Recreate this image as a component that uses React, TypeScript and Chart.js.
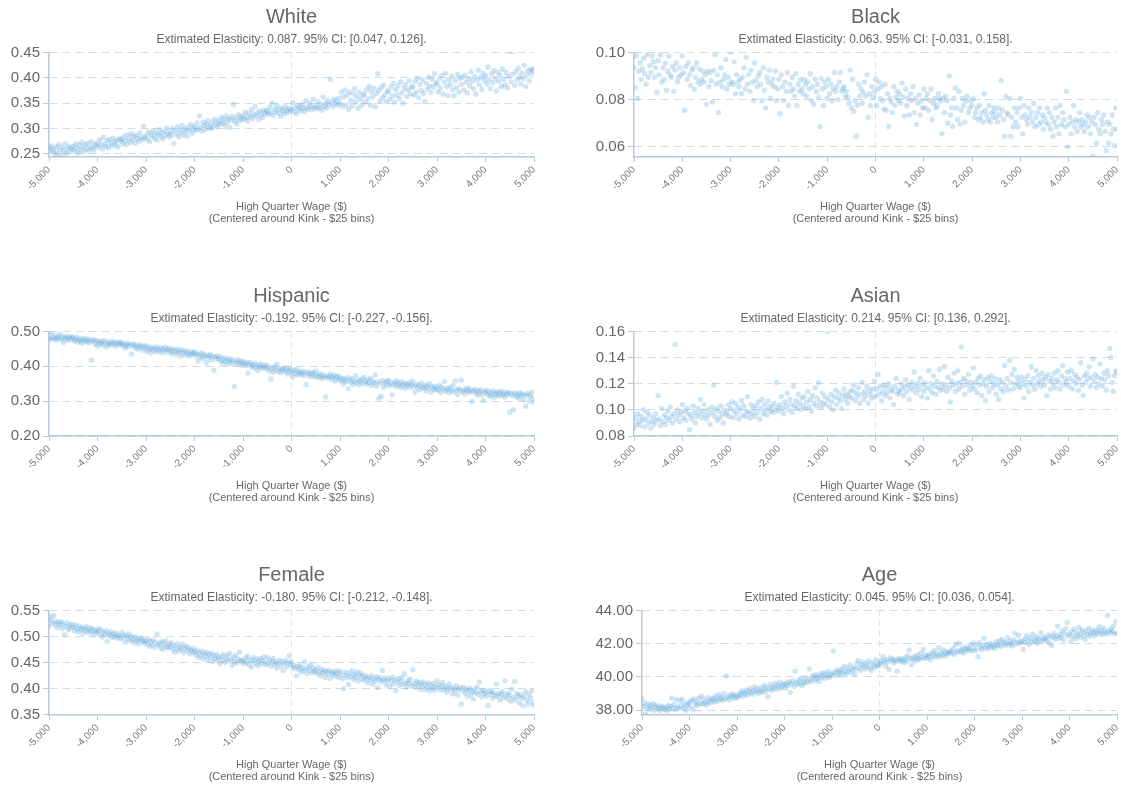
import React, { useEffect, useRef } from 'react';
import { Chart, registerables } from 'chart.js';
Chart.register(...registerables);

const FONT = 'Arial, "Liberation Sans", Helvetica, sans-serif';
Chart.defaults.font.family = FONT;

// $25 bins from -5,000 to 5,000 around the kink
const binStart = -5000;
const binWidth = 25;
const binCount = 401;
const xBins = Array.from({ length: binCount }, (_, i) => binStart + i * binWidth);
const xTicks = [-5000, -4000, -3000, -2000, -1000, 0, 1000, 2000, 3000, 4000, 5000];
const xAxisTitle = ['High Quarter Wage ($)', '(Centered around Kink - $25 bins)'];

const whiteValues = [
  0.257,0.262,0.266,0.255,0.259,0.249,0.264,0.252,0.268,0.258,0.247,0.263,0.256,0.270,0.251,0.260,0.266,0.254,0.262,0.259,
  0.265,0.256,0.270,0.261,0.252,0.267,0.258,0.273,0.263,0.255,0.268,0.260,0.271,0.257,0.264,0.274,0.262,0.258,0.269,0.266,
  0.272,0.263,0.278,0.268,0.260,0.283,0.270,0.265,0.276,0.262,0.279,0.271,0.266,0.281,0.274,0.268,0.277,0.264,0.280,0.275,
  0.279,0.270,0.285,0.276,0.268,0.288,0.280,0.273,0.290,0.277,0.284,0.271,0.287,0.281,0.275,0.292,0.283,0.278,0.305,0.282,
  0.286,0.279,0.293,0.274,0.289,0.284,0.296,0.281,0.291,0.277,0.288,0.298,0.285,0.292,0.280,0.295,0.287,0.301,0.290,0.284,
  0.293,0.287,0.300,0.270,0.296,0.289,0.303,0.284,0.298,0.292,0.306,0.288,0.299,0.294,0.285,0.302,0.297,0.308,0.291,0.300,
  0.304,0.296,0.311,0.299,0.325,0.302,0.295,0.313,0.306,0.298,0.309,0.316,0.301,0.307,0.300,0.314,0.305,0.319,0.310,0.303,
  0.315,0.309,0.322,0.311,0.318,0.306,0.325,0.313,0.320,0.302,0.317,0.324,0.348,0.314,0.321,0.309,0.327,0.316,0.323,0.318,
  0.326,0.319,0.332,0.322,0.315,0.330,0.324,0.337,0.320,0.328,0.343,0.325,0.331,0.318,0.334,0.327,0.322,0.336,0.329,0.333,
  0.335,0.328,0.342,0.331,0.350,0.326,0.338,0.333,0.345,0.330,0.337,0.324,0.340,0.334,0.329,0.343,0.336,0.332,0.339,0.335,
  0.338,0.351,0.333,0.341,0.329,0.346,0.337,0.343,0.335,0.348,0.340,0.334,0.355,0.342,0.338,0.350,0.344,0.337,0.358,0.341,
  0.345,0.339,0.353,0.341,0.348,0.336,0.362,0.344,0.350,0.340,0.356,0.347,0.397,0.352,0.343,0.358,0.349,0.355,0.346,0.360,
  0.350,0.371,0.343,0.362,0.376,0.347,0.366,0.338,0.372,0.356,0.344,0.368,0.379,0.352,0.363,0.340,0.371,0.357,0.346,0.365,
  0.368,0.352,0.377,0.359,0.383,0.346,0.372,0.362,0.380,0.343,0.369,0.408,0.375,0.354,0.381,0.361,0.386,0.366,0.353,0.374,
  0.372,0.357,0.382,0.364,0.389,0.352,0.377,0.366,0.385,0.359,0.392,0.370,0.350,0.379,0.387,0.363,0.376,0.394,0.368,0.381,
  0.383,0.366,0.393,0.372,0.399,0.361,0.387,0.375,0.396,0.369,0.353,0.389,0.378,0.401,0.384,0.371,0.397,0.382,0.408,0.390,
  0.388,0.372,0.398,0.380,0.405,0.368,0.392,0.409,0.383,0.365,0.396,0.386,0.403,0.376,0.364,0.394,0.381,0.407,0.371,0.399,
  0.387,0.401,0.376,0.405,0.391,0.370,0.398,0.384,0.412,0.393,0.379,0.402,0.368,0.396,0.415,0.386,0.400,0.377,0.409,0.395,
  0.404,0.388,0.421,0.396,0.379,0.408,0.390,0.414,0.398,0.374,0.411,0.393,0.405,0.383,0.417,0.397,0.386,0.410,0.380,0.402,
  0.452,0.392,0.407,0.452,0.385,0.412,0.396,0.419,0.401,0.388,0.409,0.398,0.425,0.383,0.405,0.414,0.394,0.417,0.408,0.415,
  0.418,
];

const blackValues = [
  0.0935,0.085,0.0985,0.0805,0.092,0.0955,0.0885,0.093,0.0975,0.091,0.0865,0.099,0.0895,0.0945,0.0915,0.0985,0.096,0.0895,0.0935,0.083,
  0.0965,0.0905,0.099,0.0875,0.0935,0.0885,0.0955,0.084,0.092,0.0985,0.0905,0.0895,0.094,0.0835,0.0925,0.0955,0.0875,0.0895,0.0935,0.0905,
  0.0985,0.0915,0.0755,0.094,0.0885,0.0955,0.0905,0.086,0.0925,0.0935,0.0845,0.0895,0.0955,0.0875,0.093,0.0865,0.0885,0.092,0.0875,0.0905,
  0.078,0.092,0.0855,0.0915,0.088,0.079,0.0925,0.099,0.0865,0.0905,0.0745,0.0875,0.0935,0.0855,0.0885,0.0905,0.097,0.0845,0.0895,0.0865,
  0.1,0.0875,0.0865,0.096,0.0825,0.0905,0.0875,0.0855,0.0885,0.0825,0.0895,0.0935,0.0845,0.098,0.0865,0.0905,0.0835,0.0925,0.0875,0.0795,
  0.0955,0.088,0.0855,0.09,0.0915,0.0865,0.0795,0.0935,0.084,0.0765,0.0895,0.0875,0.0925,0.0805,0.0865,0.0885,0.0855,0.092,0.0795,0.0845,
  0.0885,0.074,0.0905,0.0855,0.0795,0.0875,0.0835,0.0915,0.0775,0.0865,0.0835,0.0895,0.0845,0.0815,0.091,0.0775,0.0865,0.0835,0.0885,0.0845,
  0.0825,0.0885,0.0865,0.0815,0.0875,0.0845,0.091,0.0795,0.0855,0.078,0.0885,0.0835,0.0865,0.081,0.0685,0.089,0.0845,0.0775,0.0875,0.0855,
  0.0805,0.0885,0.0825,0.0865,0.0795,0.0845,0.0915,0.0835,0.0855,0.08,0.0875,0.0915,0.0835,0.0845,0.0855,0.0815,0.0835,0.081,0.0785,0.0925,
  0.0765,0.0885,0.075,0.0795,0.0645,0.0775,0.0865,0.0815,0.0845,0.0785,0.083,0.0875,0.0815,0.0905,0.0725,0.0825,0.0775,0.0855,0.081,0.0835,
  0.0885,0.0775,0.0845,0.0875,0.0805,0.0855,0.0795,0.076,0.0865,0.0755,0.0825,0.0685,0.0805,0.079,0.0745,0.0855,0.0775,0.081,0.0835,0.0795,
  0.0825,0.0785,0.087,0.081,0.073,0.0845,0.0775,0.0805,0.0735,0.0825,0.0795,0.0855,0.0745,0.0805,0.0695,0.0785,0.082,0.0735,0.0795,0.0765,
  0.0845,0.0765,0.0805,0.0825,0.0755,0.0795,0.0845,0.0715,0.0785,0.0805,0.0765,0.0775,0.0825,0.0805,0.0795,0.0655,0.0805,0.0745,0.0815,0.0795,
  0.07,0.09,0.0735,0.0765,0.0685,0.0805,0.085,0.0765,0.0715,0.0835,0.0695,0.0755,0.0805,0.0775,0.0705,0.0795,0.0815,0.0745,0.0765,0.0795,
  0.0775,0.0805,0.0725,0.0745,0.0765,0.0715,0.0775,0.0725,0.0745,0.0705,0.0825,0.0755,0.0735,0.0715,0.0775,0.0705,0.0745,0.0725,0.0765,0.0745,
  0.0725,0.0705,0.0765,0.0735,0.088,0.0755,0.0715,0.0645,0.0815,0.0745,0.0735,0.0805,0.0645,0.0725,0.0685,0.0765,0.0705,0.0745,0.0685,0.0765,
  0.0805,0.0725,0.0655,0.0775,0.0735,0.0715,0.0695,0.0765,0.0725,0.0745,0.0705,0.0785,0.0685,0.0725,0.0745,0.0695,0.0765,0.0705,0.0735,0.0675,
  0.0725,0.0705,0.0765,0.0695,0.0745,0.0675,0.0725,0.0645,0.0705,0.0765,0.0685,0.0725,0.0655,0.0775,0.0695,0.0745,0.0715,0.0685,0.0835,0.06,
  0.0695,0.0725,0.0655,0.0705,0.0775,0.0685,0.0715,0.0665,0.0705,0.0745,0.0685,0.0715,0.0695,0.0665,0.0705,0.0735,0.0685,0.0725,0.0655,0.0705,
  0.056,0.0725,0.0695,0.0615,0.0745,0.0675,0.0655,0.0715,0.0695,0.0735,0.0665,0.0585,0.0705,0.0615,0.0695,0.0655,0.0735,0.0675,0.0605,0.0765,
  0.0675,
];

const hispanicValues = [
  0.481,0.476,0.495,0.483,0.479,0.488,0.475,0.484,0.480,0.492,0.477,0.485,0.468,0.482,0.479,0.486,0.474,0.483,0.478,0.485,
  0.481,0.472,0.476,0.483,0.469,0.478,0.474,0.466,0.480,0.475,0.470,0.479,0.473,0.467,0.477,0.418,0.471,0.476,0.464,0.473,
  0.458,0.472,0.465,0.469,0.461,0.474,0.467,0.455,0.470,0.463,0.466,0.459,0.472,0.465,0.468,0.457,0.464,0.470,0.462,0.466,
  0.468,0.458,0.464,0.452,0.461,0.466,0.456,0.463,0.435,0.459,0.464,0.453,0.460,0.449,0.457,0.462,0.451,0.458,0.446,0.455,
  0.459,0.443,0.454,0.449,0.438,0.455,0.447,0.452,0.441,0.456,0.448,0.444,0.453,0.439,0.450,0.446,0.455,0.440,0.448,0.451,
  0.444,0.436,0.450,0.441,0.446,0.433,0.448,0.439,0.443,0.429,0.447,0.437,0.442,0.432,0.445,0.436,0.430,0.441,0.434,0.438,
  0.441,0.430,0.436,0.415,0.433,0.427,0.439,0.422,0.434,0.428,0.410,0.431,0.424,0.433,0.419,0.429,0.388,0.427,0.421,0.430,
  0.422,0.416,0.427,0.409,0.420,0.414,0.423,0.406,0.418,0.412,0.421,0.408,0.417,0.342,0.413,0.406,0.419,0.410,0.415,0.402,
  0.408,0.413,0.402,0.410,0.380,0.406,0.411,0.399,0.404,0.395,0.409,0.400,0.388,0.403,0.397,0.407,0.394,0.401,0.396,0.404,
  0.392,0.399,0.387,0.363,0.395,0.383,0.398,0.390,0.406,0.386,0.394,0.381,0.391,0.389,0.396,0.384,0.392,0.377,0.388,0.393,
  0.381,0.369,0.388,0.379,0.391,0.374,0.385,0.380,0.377,0.386,0.372,0.383,0.347,0.378,0.384,0.371,0.380,0.375,0.382,0.369,
  0.386,0.374,0.368,0.379,0.372,0.364,0.376,0.369,0.312,0.373,0.366,0.371,0.378,0.362,0.369,0.374,0.358,0.367,0.372,0.361,
  0.368,0.357,0.364,0.350,0.362,0.356,0.367,0.336,0.360,0.353,0.365,0.348,0.358,0.374,0.352,0.361,0.346,0.357,0.363,0.351,
  0.369,0.356,0.349,0.361,0.353,0.366,0.345,0.358,0.352,0.375,0.343,0.356,0.308,0.351,0.314,0.359,0.340,0.354,0.347,0.357,
  0.361,0.345,0.352,0.318,0.348,0.355,0.342,0.358,0.347,0.350,0.339,0.356,0.344,0.351,0.337,0.349,0.345,0.352,0.340,0.347,
  0.357,0.343,0.326,0.348,0.339,0.346,0.333,0.352,0.341,0.337,0.345,0.330,0.344,0.338,0.350,0.326,0.341,0.335,0.343,0.332,
  0.338,0.331,0.346,0.325,0.340,0.334,0.356,0.328,0.337,0.333,0.323,0.339,0.330,0.345,0.327,0.358,0.333,0.320,0.336,0.331,
  0.360,0.327,0.333,0.321,0.335,0.329,0.337,0.324,0.331,0.299,0.328,0.334,0.322,0.330,0.317,0.327,0.333,0.319,0.302,0.328,
  0.324,0.331,0.318,0.326,0.314,0.322,0.329,0.311,0.324,0.319,0.327,0.315,0.323,0.329,0.317,0.321,0.312,0.326,0.319,0.324,
  0.268,0.322,0.316,0.275,0.324,0.313,0.319,0.309,0.325,0.315,0.321,0.304,0.318,0.285,0.316,0.322,0.300,0.314,0.325,0.309,
  0.297,
];

const asianValues = [
  0.086,0.094,0.089,0.097,0.091,0.088,0.095,0.092,0.100,0.087,0.093,0.098,0.090,0.096,0.086,0.091,0.094,0.089,0.097,0.092,
  0.111,0.093,0.088,0.101,0.091,0.096,0.089,0.094,0.099,0.092,0.102,0.095,0.090,0.097,0.150,0.093,0.100,0.096,0.091,0.098,
  0.104,0.094,0.099,0.092,0.101,0.097,0.085,0.096,0.093,0.103,0.098,0.090,0.095,0.101,0.097,0.108,0.094,0.099,0.104,0.096,
  0.093,0.100,0.096,0.089,0.102,0.098,0.119,0.095,0.101,0.092,0.099,0.094,0.103,0.097,0.090,0.100,0.096,0.098,0.104,0.095,
  0.101,0.106,0.094,0.099,0.105,0.097,0.102,0.093,0.100,0.107,0.096,0.103,0.095,0.099,0.110,0.098,0.094,0.104,0.097,0.101,
  0.095,0.103,0.098,0.106,0.093,0.101,0.108,0.097,0.104,0.100,0.096,0.107,0.102,0.099,0.103,0.098,0.105,0.100,0.121,0.102,
  0.099,0.104,0.110,0.101,0.097,0.106,0.103,0.113,0.100,0.108,0.104,0.098,0.118,0.103,0.107,0.101,0.112,0.105,0.100,0.109,
  0.103,0.110,0.101,0.106,0.114,0.102,0.108,0.099,0.111,0.105,0.117,0.103,0.109,0.121,0.106,0.102,0.113,0.105,0.110,0.104,
  0.160,0.108,0.102,0.112,0.106,0.100,0.110,0.115,0.104,0.109,0.113,0.107,0.101,0.111,0.116,0.108,0.112,0.105,0.110,0.114,
  0.109,0.115,0.119,0.107,0.113,0.110,0.117,0.105,0.112,0.121,0.108,0.114,0.111,0.118,0.105,0.115,0.112,0.109,0.116,0.122,
  0.110,0.116,0.127,0.112,0.118,0.107,0.114,0.119,0.111,0.117,0.113,0.120,0.109,0.116,0.114,0.104,0.118,0.124,0.112,0.115,
  0.113,0.120,0.116,0.111,0.118,0.123,0.114,0.119,0.108,0.117,0.121,0.115,0.129,0.118,0.113,0.120,0.116,0.124,0.110,0.119,
  0.114,0.121,0.117,0.109,0.130,0.116,0.120,0.113,0.126,0.118,0.112,0.122,0.117,0.131,0.115,0.120,0.116,0.133,0.119,0.114,
  0.125,0.117,0.106,0.122,0.119,0.128,0.114,0.120,0.130,0.116,0.121,0.148,0.118,0.124,0.112,0.122,0.119,0.127,0.115,0.121,
  0.118,0.132,0.116,0.121,0.113,0.124,0.119,0.126,0.111,0.120,0.123,0.107,0.118,0.125,0.114,0.122,0.126,0.117,0.120,0.124,
  0.112,0.119,0.108,0.123,0.116,0.121,0.114,0.134,0.118,0.124,0.115,0.138,0.121,0.127,0.116,0.131,0.120,0.125,0.118,0.122,
  0.117,0.125,0.120,0.109,0.123,0.118,0.126,0.114,0.121,0.133,0.119,0.124,0.116,0.130,0.120,0.126,0.122,0.118,0.128,0.123,
  0.119,0.125,0.111,0.127,0.122,0.116,0.124,0.120,0.128,0.117,0.123,0.130,0.121,0.116,0.126,0.134,0.119,0.124,0.121,0.129,
  0.118,0.124,0.130,0.116,0.122,0.127,0.120,0.125,0.115,0.123,0.136,0.119,0.111,0.126,0.121,0.128,0.124,0.133,0.118,0.125,
  0.139,0.122,0.127,0.117,0.125,0.120,0.135,0.124,0.118,0.128,0.123,0.115,0.130,0.126,0.147,0.140,0.121,0.114,0.126,0.129,
  0.130,
];

const femaleValues = [
  0.520,0.538,0.531,0.526,0.540,0.523,0.529,0.517,0.527,0.522,0.528,0.515,0.524,0.503,0.519,0.526,0.513,0.521,0.516,0.524,
  0.518,0.511,0.522,0.515,0.509,0.520,0.513,0.517,0.506,0.516,0.512,0.519,0.508,0.514,0.510,0.517,0.505,0.513,0.511,0.507,
  0.510,0.515,0.503,0.512,0.499,0.508,0.504,0.511,0.491,0.506,0.502,0.509,0.498,0.505,0.500,0.507,0.497,0.503,0.501,0.495,
  0.508,0.498,0.503,0.489,0.501,0.496,0.505,0.492,0.500,0.494,0.488,0.499,0.491,0.496,0.486,0.494,0.497,0.490,0.493,0.487,
  0.492,0.486,0.495,0.481,0.490,0.484,0.493,0.479,0.488,0.505,0.483,0.487,0.478,0.490,0.476,0.485,0.492,0.481,0.478,0.486,
  0.480,0.488,0.475,0.483,0.470,0.478,0.486,0.472,0.480,0.476,0.485,0.469,0.477,0.482,0.473,0.479,0.467,0.475,0.471,0.477,
  0.470,0.466,0.474,0.460,0.469,0.463,0.472,0.457,0.467,0.462,0.470,0.455,0.465,0.460,0.468,0.452,0.463,0.458,0.466,0.454,
  0.460,0.448,0.462,0.455,0.466,0.450,0.458,0.463,0.453,0.468,0.456,0.445,0.460,0.452,0.464,0.449,0.457,0.470,0.454,0.451,
  0.455,0.448,0.459,0.451,0.462,0.446,0.455,0.441,0.453,0.460,0.449,0.456,0.444,0.452,0.458,0.447,0.454,0.461,0.450,0.446,
  0.460,0.449,0.455,0.443,0.452,0.458,0.446,0.451,0.439,0.449,0.455,0.444,0.451,0.435,0.448,0.454,0.442,0.450,0.463,0.447,
  0.452,0.441,0.445,0.438,0.425,0.443,0.437,0.444,0.432,0.440,0.434,0.451,0.438,0.429,0.442,0.435,0.446,0.431,0.439,0.433,
  0.436,0.429,0.441,0.432,0.425,0.437,0.430,0.434,0.422,0.433,0.428,0.435,0.420,0.431,0.427,0.433,0.424,0.429,0.435,0.422,
  0.428,0.433,0.419,0.400,0.426,0.431,0.421,0.408,0.429,0.423,0.435,0.418,0.427,0.422,0.432,0.415,0.425,0.430,0.419,0.426,
  0.416,0.424,0.420,0.411,0.422,0.417,0.425,0.409,0.419,0.414,0.423,0.402,0.418,0.421,0.413,0.435,0.416,0.420,0.407,0.415,
  0.420,0.404,0.415,0.422,0.409,0.417,0.396,0.413,0.419,0.406,0.414,0.421,0.408,0.428,0.411,0.403,0.416,0.410,0.418,0.405,
  0.436,0.410,0.403,0.415,0.407,0.412,0.399,0.409,0.404,0.413,0.398,0.408,0.402,0.411,0.396,0.406,0.401,0.410,0.397,0.404,
  0.415,0.402,0.408,0.397,0.405,0.412,0.399,0.404,0.393,0.401,0.409,0.398,0.403,0.390,0.400,0.396,0.406,0.388,0.399,0.402,
  0.370,0.397,0.403,0.391,0.399,0.385,0.396,0.401,0.388,0.394,0.380,0.398,0.392,0.403,0.389,0.413,0.395,0.384,0.397,0.390,
  0.393,0.386,0.368,0.396,0.389,0.394,0.381,0.392,0.387,0.409,0.385,0.391,0.378,0.389,0.394,0.383,0.415,0.388,0.380,0.392,
  0.387,0.376,0.399,0.383,0.414,0.379,0.391,0.386,0.372,0.388,0.381,0.367,0.385,0.394,0.378,0.370,0.389,0.382,0.396,0.373,
  0.368,
];

const ageValues = [
  38.68,38.21,38.42,37.76,38.15,38.36,38.05,38.28,38.12,38.40,37.98,38.22,38.31,38.08,38.17,37.95,38.25,38.10,38.19,38.03,
  38.14,37.97,38.27,38.06,38.21,38.72,38.11,38.33,38.02,38.64,38.19,38.09,38.55,38.24,38.66,38.12,38.38,37.99,38.29,38.45,
  38.18,38.48,38.59,38.05,38.66,38.33,38.51,38.27,38.72,38.40,38.83,38.36,38.62,38.45,38.30,38.74,38.52,38.41,38.68,38.57,
  38.71,38.49,38.86,38.63,38.55,38.92,38.68,38.75,38.59,38.98,38.66,40.05,38.73,38.84,38.60,38.91,38.78,38.95,38.70,38.82,
  38.88,38.75,39.02,38.92,39.15,38.83,39.08,38.97,39.21,38.90,39.12,39.30,39.03,38.95,39.18,39.40,39.08,39.25,39.01,39.14,
  39.34,39.05,39.22,39.48,39.13,39.36,38.82,39.27,39.55,39.19,39.41,39.31,39.62,39.24,39.50,39.38,39.67,39.29,39.45,39.58,
  39.52,39.33,39.61,39.48,39.70,39.05,39.58,39.75,39.42,40.34,39.66,39.53,39.80,39.60,39.89,39.47,39.72,39.63,39.95,39.68,
  39.82,40.48,39.70,39.93,40.05,39.78,40.12,39.88,40.01,39.72,40.18,39.95,40.08,40.26,39.89,40.15,40.02,40.32,39.96,40.11,
  40.17,41.55,40.28,40.05,40.41,40.22,40.34,40.10,40.46,40.25,40.62,40.31,40.14,40.52,40.36,40.71,40.27,40.45,40.58,40.19,
  40.48,40.82,40.99,40.55,40.36,40.74,40.90,40.61,40.47,40.79,40.65,40.95,40.53,40.38,40.84,40.70,40.58,41.02,40.74,40.63,
  40.76,40.98,40.84,41.21,40.92,40.65,41.05,40.88,40.46,41.14,40.96,41.08,40.81,41.02,40.93,40.34,41.11,40.97,41.06,40.90,
  41.04,40.86,41.18,40.95,41.27,41.62,41.09,40.73,41.15,41.01,41.23,40.97,41.31,41.12,41.06,41.42,41.19,41.63,41.10,41.28,
  41.13,41.35,41.22,41.01,41.44,41.26,41.57,41.18,41.39,41.30,41.75,41.21,41.47,41.33,41.62,41.25,41.41,41.52,41.36,41.49,
  41.58,41.43,41.70,41.36,41.95,41.55,41.48,42.02,41.62,41.51,41.73,41.44,41.66,41.80,41.58,41.71,41.63,41.92,41.55,42.05,
  41.72,41.58,41.95,41.21,42.07,41.78,41.65,41.88,42.31,41.74,41.97,41.69,41.82,42.01,41.76,41.93,41.84,41.70,42.12,41.88,
  41.95,42.18,41.82,42.26,41.99,42.10,41.88,42.05,42.36,41.93,42.14,42.01,41.86,42.23,42.62,42.08,41.97,42.49,42.15,42.03,
  42.12,41.66,42.27,42.05,42.48,42.18,41.94,42.35,42.09,42.56,42.24,42.14,42.41,42.02,42.31,42.20,42.66,42.11,42.38,42.27,
  42.33,42.20,42.52,42.04,42.44,41.88,42.37,42.63,42.28,42.46,43.05,42.31,42.55,42.40,42.78,42.22,42.60,42.90,43.27,42.45,
  42.58,42.12,42.72,42.43,42.86,42.29,42.64,42.51,42.97,42.38,42.68,42.82,42.47,42.25,42.73,42.57,42.91,42.44,42.62,42.79,
  42.66,42.49,42.83,42.58,42.74,43.02,42.62,42.81,42.55,42.93,42.69,42.60,43.70,42.77,42.64,42.88,42.72,43.03,42.59,43.31,
  42.63,
];

const panelTitles = ['White', 'Black', 'Hispanic', 'Asian', 'Female', 'Age'];
const panelSubtitles = [
  'Extimated Elasticity: 0.087. 95% CI: [0.047, 0.126].',
  'Extimated Elasticity: 0.063. 95% CI: [-0.031, 0.158].',
  'Extimated Elasticity: -0.192. 95% CI: [-0.227, -0.156].',
  'Extimated Elasticity: 0.214. 95% CI: [0.136, 0.292].',
  'Extimated Elasticity: -0.180. 95% CI: [-0.212, -0.148].',
  'Extimated Elasticity: 0.045. 95% CI: [0.036, 0.054].',
];
const panelValues = [whiteValues, blackValues, hispanicValues, asianValues, femaleValues, ageValues];
const whiteYTicks = [0.25, 0.3, 0.35, 0.4, 0.45];
const blackYTicks = [0.06, 0.08, 0.1];
const hispanicYTicks = [0.2, 0.3, 0.4, 0.5];
const asianYTicks = [0.08, 0.1, 0.12, 0.14, 0.16];
const femaleYTicks = [0.35, 0.4, 0.45, 0.5, 0.55];
const ageYTicks = [38, 40, 42, 44];
const panelYTicks = [whiteYTicks, blackYTicks, hispanicYTicks, asianYTicks, femaleYTicks, ageYTicks];
const panelYRanges = [
  [0.244, 0.45],
  [0.0557, 0.1],
  [0.2, 0.5],
  [0.08, 0.16],
  [0.3495, 0.55],
  [37.7, 44],
];

// layout (pixels)
const ROW_H = 279;
const COL_LEFT = [0, 560];
const COL_W = [560, 585];
const PAD_RIGHT = [26, 28];
const Y_AXIS_W = [49, 74, 49, 74, 49, 82];

const POINT_COLOR = 'rgba(100,170,220,0.3)';
const AXIS_COLOR = '#b9c9db';
const GRID_COLOR = '#d2dce7';
const ZERO_COLOR = '#e3e3e3';
const TEXT_COLOR = '#666';

function Panel({ index }: { index: number }) {
  const ref = useRef<HTMLCanvasElement>(null);
  const col = index % 2;
  const row = Math.floor(index / 2);
  useEffect(() => {
    const values = panelValues[index];
    const yTicks = panelYTicks[index];
    const [yMin, yMax] = panelYRanges[index];
    const chart = new Chart(ref.current as HTMLCanvasElement, {
      type: 'scatter',
      data: {
        datasets: [
          {
            data: xBins.map((x, i) => ({ x, y: values[i] })),
            backgroundColor: POINT_COLOR,
            borderWidth: 0,
            pointRadius: 2.7,
            pointHoverRadius: 2.7,
          },
        ],
      },
      options: {
        responsive: false,
        animation: false,
        events: [],
        layout: { padding: { left: 0, right: PAD_RIGHT[col], top: 0, bottom: 54 } },
        plugins: {
          legend: { display: false },
          tooltip: { enabled: false },
          title: {
            display: true,
            fullSize: false,
            text: panelTitles[index],
            color: TEXT_COLOR,
            font: { size: 20, weight: 'normal', family: FONT, lineHeight: 1.2 },
            padding: { top: 5, bottom: 3 },
          },
          subtitle: {
            display: true,
            fullSize: false,
            text: panelSubtitles[index],
            color: TEXT_COLOR,
            font: { size: 12, weight: 'normal', family: FONT, lineHeight: 1.2 },
            padding: { top: 0, bottom: 6 },
          },
        },
        scales: {
          x: {
            type: 'linear',
            position: 'bottom',
            min: xTicks[0],
            max: xTicks[xTicks.length - 1],
            afterBuildTicks: (s: any) => {
              s.ticks = xTicks.map((v) => ({ value: v }));
            },
            afterFit: (s: any) => {
              s.height = 68;
            },
            ticks: {
              autoSkip: false,
              minRotation: 45,
              maxRotation: 45,
              padding: 2,
              color: '#777',
              font: { size: 10, family: FONT },
              callback: (v: any) => Number(v).toLocaleString('en-US'),
            },
            grid: {
              color: (c: any) => (c.tick && c.tick.value === 0 ? ZERO_COLOR : 'rgba(0,0,0,0)'),
              lineWidth: 1,
              tickColor: AXIS_COLOR,
              tickLength: 5,
              tickWidth: 1,
            },
            border: { display: true, color: AXIS_COLOR, width: 1.5, dash: [6, 4] },
            title: {
              display: true,
              text: xAxisTitle,
              color: TEXT_COLOR,
              font: { size: 11, family: FONT, lineHeight: 1.1 },
              padding: { top: 0, bottom: 0 },
            },
          },
          y: {
            type: 'linear',
            min: yMin,
            max: yMax,
            afterBuildTicks: (s: any) => {
              s.ticks = yTicks.map((v) => ({ value: v }));
            },
            afterFit: (s: any) => {
              s.width = Y_AXIS_W[index];
            },
            ticks: {
              padding: 3,
              color: TEXT_COLOR,
              font: { size: 15, family: FONT },
              callback: (v: any) => Number(v).toFixed(2),
            },
            grid: {
              color: GRID_COLOR,
              lineWidth: 1,
              tickColor: AXIS_COLOR,
              tickLength: 6,
              tickWidth: 1,
            },
            border: { display: true, color: AXIS_COLOR, width: 1.5, dash: [8, 5] },
          },
        },
      } as any,
    });
    return () => chart.destroy();
  }, [index]);
  return (
    <div style={{ position: 'absolute', left: COL_LEFT[col], top: row * ROW_H, width: COL_W[col], height: ROW_H }}>
      <canvas ref={ref} width={COL_W[col]} height={ROW_H} style={{ display: 'block' }} />
    </div>
  );
}

export default function App() {
  return (
    <div style={{ position: 'absolute', left: 0, top: 0, width: 1121, height: 789, overflow: 'hidden', background: '#fff' }}>
      {panelTitles.map((_, i) => (
        <Panel key={i} index={i} />
      ))}
    </div>
  );
}
